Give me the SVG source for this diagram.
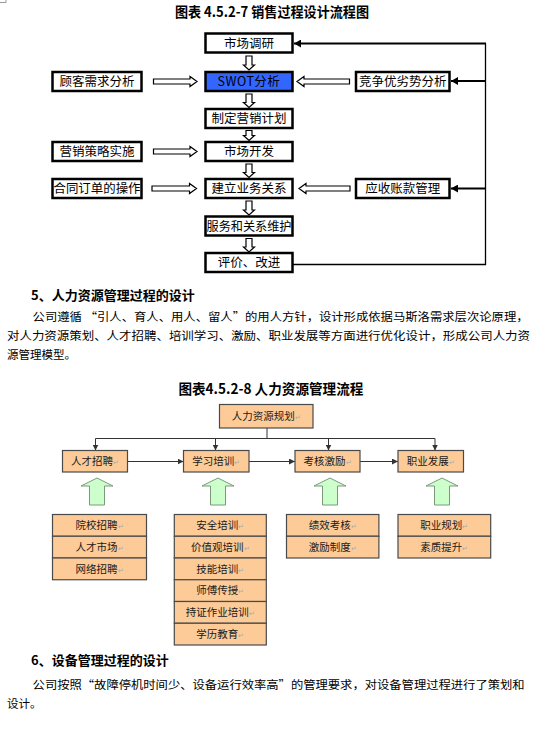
<svg xmlns="http://www.w3.org/2000/svg" width="538" height="734" viewBox="0 0 538 734">
<style>
text{font-family:"Noto Sans CJK SC","Liberation Sans",sans-serif;}
.b1{fill:#fff;stroke:#000;stroke-width:2.5;}
.t1{font-size:12.5px;fill:#000;text-anchor:middle;}
.ha{fill:#fff;stroke:#000;stroke-width:1.2;}
.fb{fill:none;stroke:#000;}
.b2{fill:#FCCB98;stroke:#4a4a4a;stroke-width:1.2;}
.t2{font-size:10.5px;fill:#1a1a1a;text-anchor:middle;}
.rt{font-size:7px;fill:#aaa;}
.c2{fill:none;stroke:#333;stroke-width:1;}
.ga{fill:#CCFFCC;stroke:#7a9a7a;stroke-width:1;}
.hd{font-size:13px;font-weight:bold;fill:#000;}
.ttl{font-size:14px;font-weight:bold;fill:#000;}
.p{font-size:11.5px;fill:#000;}
</style>
<defs>
<marker id="ah1" viewBox="0 0 7 8" refX="7" refY="4" markerWidth="7" markerHeight="8" markerUnits="userSpaceOnUse" orient="auto"><path d="M0 0 L7 4 L0 8 Z" fill="#000"/></marker>
<marker id="ah2" viewBox="0 0 6 6" refX="6" refY="3" markerWidth="6" markerHeight="6" markerUnits="userSpaceOnUse" orient="auto"><path d="M0 0 L6 3 L0 6 Z" fill="#333"/></marker>
</defs>
<path d="M0 2.5 H6 V0" fill="none" stroke="#999" stroke-width="1"/>
<text class="ttl" x="175" y="16.5" textLength="194" lengthAdjust="spacingAndGlyphs">图表 4.5.2-7 销售过程设计流程图</text>
<g id="connectors1">
<path class="ha" d="M153.5 79 H190 V76.5 L197 81.5 L190 86.5 V84 H153.5 Z"/>
<path class="ha" d="M153.5 149 H190 V146.5 L197 151.5 L190 156.5 V154 H153.5 Z"/>
<path class="ha" d="M152 186 H189.5 V183.5 L196.5 188.5 L189.5 193.5 V191 H152 Z"/>
<path class="ha" d="M349.5 79 H304 V76.5 L297 81.5 L304 86.5 V84 H349.5 Z"/>
<path class="ha" d="M350 186 H306 V183.5 L299 188.5 L306 193.5 V191 H350 Z"/>
<path class="ha" d="M246 56 H252 V65 H254.5 L249 70 L243.5 65 H246 Z"/>
<path class="ha" d="M246 94 H252 V102.5 H254.5 L249 107.5 L243.5 102.5 H246 Z"/>
<path class="ha" d="M246 130.5 H252 V135.5 H254.5 L249 140.5 L243.5 135.5 H246 Z"/>
<path class="ha" d="M246 164 H252 V172.5 H254.5 L249 177.5 L243.5 172.5 H246 Z"/>
<path class="ha" d="M246 201 H252 V210 H254.5 L249 215 L243.5 210 H246 Z"/>
<path class="ha" d="M246 238.5 H252 V247 H254.5 L249 252 L243.5 247 H246 Z"/>
<path class="fb" stroke-width="1.3" d="M292.5 264.5 H485.5 V43.5"/>
<line class="fb" stroke-width="2" x1="486" y1="43.5" x2="294" y2="43.5" marker-end="url(#ah1)"/>
<line class="fb" stroke-width="2" x1="486" y1="81" x2="451" y2="81" marker-end="url(#ah1)"/>
<line class="fb" stroke-width="2" x1="486" y1="188.5" x2="451" y2="188.5" marker-end="url(#ah1)"/>
</g>
<g id="n-scdy"><rect class="b1" x="205.5" y="33.5" width="87" height="19"/><text class="t1" x="249" y="47.5">市场调研</text></g>
<g id="n-swot"><rect class="b1" x="205.5" y="72" width="87" height="19" style="fill:#3366FF"/><text class="t1" x="249" y="86" letter-spacing="0.5">SWOT分析</text></g>
<g id="n-zdyx"><rect class="b1" x="205.5" y="109" width="87" height="19"/><text class="t1" x="249" y="123">制定营销计划</text></g>
<g id="n-sckf"><rect class="b1" x="205.5" y="142" width="87" height="19"/><text class="t1" x="249" y="156">市场开发</text></g>
<g id="n-jlyw"><rect class="b1" x="205.5" y="179" width="87" height="19"/><text class="t1" x="249" y="193">建立业务关系</text></g>
<g id="n-fw"><rect class="b1" x="205.5" y="216.5" width="87" height="19"/><text class="t1" x="249" y="230.5" textLength="85" lengthAdjust="spacingAndGlyphs">服务和关系维护</text></g>
<g id="n-pj"><rect class="b1" x="205.5" y="253" width="87" height="19"/><text class="t1" x="249" y="267">评价、改进</text></g>
<g id="n-gk"><rect class="b1" x="52.5" y="72" width="89" height="19"/><text class="t1" x="97" y="86">顾客需求分析</text></g>
<g id="n-yxcl"><rect class="b1" x="52.5" y="142" width="89" height="19"/><text class="t1" x="97" y="156">营销策略实施</text></g>
<g id="n-ht"><rect class="b1" x="52.5" y="179" width="89" height="19"/><text class="t1" x="97" y="193" textLength="87" lengthAdjust="spacingAndGlyphs">合同订单的操作</text></g>
<g id="n-jz"><rect class="b1" x="356" y="72" width="93.5" height="19"/><text class="t1" x="402.7" y="86">竞争优劣势分析</text></g>
<g id="n-ys"><rect class="b1" x="356" y="179" width="93.5" height="19"/><text class="t1" x="402.7" y="193">应收账款管理</text></g>

<text class="hd" x="31" y="300">5、人力资源管理过程的设计</text>
<text class="p" x="32.6" y="320.5" textLength="496" lengthAdjust="spacingAndGlyphs">公司遵循 “引人、育人、用人、留人”的用人方针，设计形成依据马斯洛需求层次论原理，</text>
<text class="p" x="7" y="339.5" textLength="523" lengthAdjust="spacingAndGlyphs">对人力资源策划、人才招聘、培训学习、激励、职业发展等方面进行优化设计，形成公司人力资</text>
<text class="p" x="7" y="358.5">源管理模型。</text>
<text class="ttl" x="178.4" y="393.5" textLength="185" lengthAdjust="spacingAndGlyphs">图表4.5.2-8 人力资源管理流程</text>

<g id="connectors2">
<path class="c2" d="M267 428 V438.5 M95.5 438.5 H435"/>
<line class="c2" x1="95.5" y1="438.5" x2="95.5" y2="450.5" marker-end="url(#ah2)"/>
<line class="c2" x1="215.5" y1="438.5" x2="215.5" y2="450.5" marker-end="url(#ah2)"/>
<line class="c2" x1="328.5" y1="438.5" x2="328.5" y2="450.5" marker-end="url(#ah2)"/>
<line class="c2" x1="435" y1="438.5" x2="435" y2="450.5" marker-end="url(#ah2)"/>
<line class="c2" x1="127.5" y1="461.5" x2="183.5" y2="461.5" marker-end="url(#ah2)"/>
<line class="c2" x1="249" y1="461.5" x2="295" y2="461.5" marker-end="url(#ah2)"/>
<line class="c2" x1="360" y1="461.5" x2="398" y2="461.5" marker-end="url(#ah2)"/>
<path class="ga" d="M97 478 L113 486 H104.5 V505 H89.5 V486 H81 Z"/>
<path class="ga" d="M218 478 L234 486 H225.5 V505 H210.5 V486 H202 Z"/>
<path class="ga" d="M330 478 L346 486 H337.5 V505 H322.5 V486 H314 Z"/>
<path class="ga" d="M442 478 L458 486 H449.5 V505 H434.5 V486 H426 Z"/>
</g>
<g id="n-hrgh"><rect class="b2" x="219.5" y="404.5" width="93.5" height="23.5"/><text class="t2" x="266.3" y="420">人力资源规划<tspan class="rt">↵</tspan></text></g>
<g id="n-rczp"><rect class="b2" x="62.5" y="450.5" width="65" height="21.5"/><text class="t2" x="95" y="465">人才招聘<tspan class="rt">↵</tspan></text></g>
<g id="n-xxpx"><rect class="b2" x="183.5" y="450.5" width="65.5" height="21.5"/><text class="t2" x="216.3" y="465">学习培训<tspan class="rt">↵</tspan></text></g>
<g id="n-khjl"><rect class="b2" x="295" y="450.5" width="65" height="21.5"/><text class="t2" x="327.5" y="465">考核激励<tspan class="rt">↵</tspan></text></g>
<g id="n-zyfz"><rect class="b2" x="398" y="450.5" width="65.5" height="21.5"/><text class="t2" x="430.7" y="465">职业发展<tspan class="rt">↵</tspan></text></g>

<g id="n-col1">
<rect class="b2" x="52.5" y="514.5" width="94" height="21.75"/><text class="t2" x="99.5" y="529">院校招聘<tspan class="rt">↵</tspan></text>
<rect class="b2" x="52.5" y="536.25" width="94" height="21.75"/><text class="t2" x="99.5" y="550.7">人才市场<tspan class="rt">↵</tspan></text>
<rect class="b2" x="52.5" y="558" width="94" height="21.75"/><text class="t2" x="99.5" y="572.5">网络招聘<tspan class="rt">↵</tspan></text>
</g>
<g id="n-col2">
<rect class="b2" x="174.3" y="514.5" width="92" height="21.75"/><text class="t2" x="220.3" y="529">安全培训<tspan class="rt">↵</tspan></text>
<rect class="b2" x="174.3" y="536.25" width="92" height="21.75"/><text class="t2" x="220.3" y="550.7">价值观培训<tspan class="rt">↵</tspan></text>
<rect class="b2" x="174.3" y="558" width="92" height="21.75"/><text class="t2" x="220.3" y="572.5">技能培训<tspan class="rt">↵</tspan></text>
<rect class="b2" x="174.3" y="579.75" width="92" height="21.75"/><text class="t2" x="220.3" y="594.2">师傅传授<tspan class="rt">↵</tspan></text>
<rect class="b2" x="174.3" y="601.5" width="92" height="21.75"/><text class="t2" x="220.3" y="616">持证作业培训<tspan class="rt">↵</tspan></text>
<rect class="b2" x="174.3" y="623.25" width="92" height="21.75"/><text class="t2" x="220.3" y="637.7">学历教育<tspan class="rt">↵</tspan></text>
</g>
<g id="n-col3">
<rect class="b2" x="286.5" y="514.5" width="92.4" height="21.75"/><text class="t2" x="332.7" y="529">绩效考核<tspan class="rt">↵</tspan></text>
<rect class="b2" x="286.5" y="536.25" width="92.4" height="21.75"/><text class="t2" x="332.7" y="550.7">激励制度<tspan class="rt">↵</tspan></text>
</g>
<g id="n-col4">
<rect class="b2" x="398" y="514.5" width="92.7" height="21.75"/><text class="t2" x="444.3" y="529">职业规划<tspan class="rt">↵</tspan></text>
<rect class="b2" x="398" y="536.25" width="92.7" height="21.75"/><text class="t2" x="444.3" y="550.7">素质提升<tspan class="rt">↵</tspan></text>
</g>

<text class="hd" x="31" y="665">6、设备管理过程的设计</text>
<text class="p" x="32.6" y="689" textLength="492" lengthAdjust="spacingAndGlyphs">公司按照“故障停机时间少、设备运行效率高”的管理要求，对设备管理过程进行了策划和</text>
<text class="p" x="7" y="708">设计。</text>
</svg>
